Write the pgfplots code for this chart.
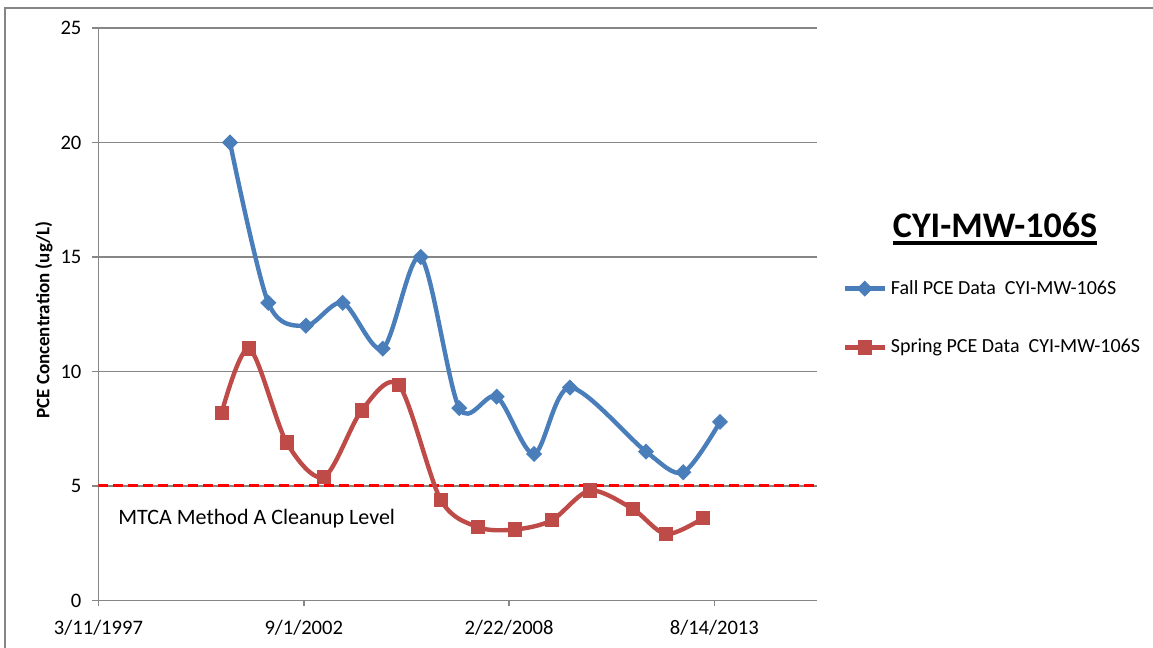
\documentclass[border=0pt]{standalone}
\usepackage{pgfplots}
\pgfplotsset{compat=1.18}
\usepackage{fontspec}
\setmainfont{Carlito}
\definecolor{fallblue}{HTML}{4A7EBB}
\definecolor{springred}{HTML}{BE4B48}
\definecolor{axgray}{HTML}{868686}

% x = days since 3/11/1997
\pgfplotstableread{
x y
1281 20
1654 13
2021 12
2379 13
2769 11
3139 15
3515 8.4
3879 8.9
4243 6.4
4593 9.3
5334 6.5
5697 5.6
6055 7.8
}\falldata
\pgfplotstableread{
x y
1200 8.2
1469 11
1833 6.9
2197 5.4
2564 8.3
2927 9.4
3334 4.4
3700 3.2
4057 3.1
4415 3.5
4788 4.8
5204 4.0
5529 2.9
5892 3.6
}\springdata

\begin{document}
\begin{tikzpicture}
\path[use as bounding box] (0,0) rectangle (576.5pt,324pt);
% chart frame
\draw[axgray, line width=0.6pt] (2.5pt,0) -- (2.5pt,320pt) -- (576.5pt,320pt);

\begin{axis}[
    at={(49.25pt,23.75pt)}, anchor=south west,
    scale only axis,
    width=359.25pt, height=286.25pt,
    xmin=0, xmax=7000,
    ymin=0, ymax=25,
    xtick={0,2000,4000,6000},
    xticklabels={3/11/1997,9/1/2002,2/22/2008,8/14/2013},
    ytick={0,5,10,15,20,25},
    axis x line*=bottom, axis y line*=left,
    axis line style={axgray, line width=0.8pt},
    tick align=outside, major tick length=3pt,
    tick style={axgray, line width=0.8pt},
    ymajorgrids, grid style={axgray, line width=0.8pt},
    tick label style={font=\fontsize{10.3}{12}\selectfont, black},
    xticklabel style={yshift=-3.5pt},
    yticklabel style={xshift=-2pt},
    /pgf/number format/assume math mode=true,
    ylabel={PCE Concentration (ug/L)},
    every axis y label/.style={at={(axis description cs:-0.0759,0.49)}, rotate=90, anchor=center,
        font=\fontsize{9.5}{11}\selectfont\bfseries},
    legend style={at={(1.035,0.4934)}, anchor=west, draw=none, fill=none,
        inner xsep=0pt, font=\fontsize{10}{12}\selectfont,
        row sep=17pt},
    legend cell align=left,
    legend image code/.code={
        \draw[mark repeat=2, mark phase=2] plot coordinates {(0pt,0pt) (10pt,0pt) (20pt,0pt)};
    },
]
\addplot[red, line width=1.5pt, dash pattern=on 5pt off 2.5pt, forget plot]
    coordinates {(0,5) (7000,5)};

\addplot[fallblue, line width=2.2pt, smooth, tension=0.5,
    mark=square*, mark size=2.6pt, mark options={solid, rotate=45, fill=fallblue, draw=fallblue, line width=0.5pt}]
    table[x=x, y=y] {\falldata};
\addlegendentry{Fall PCE Data\ \ CYI-MW-106S}

\addplot[springred, line width=2.2pt, smooth, tension=0.5,
    mark=square*, mark size=3.3pt, mark options={solid, fill=springred, draw=springred, line width=0.5pt}]
    table[x=x, y=y] {\springdata};
\addlegendentry{Spring PCE Data\ \ CYI-MW-106S}

\node[anchor=base west, font=\fontsize{11}{13}\selectfont, inner sep=0pt]
    at (axis cs:190,3.3) {MTCA Method A Cleanup Level};
\end{axis}

\node[anchor=base, font=\fontsize{18}{21}\selectfont\bfseries, inner sep=0pt] (T)
    at (497.5pt,205pt) {CYI-MW-106S};
\draw[line width=1.8pt] ([yshift=-2.6pt]T.base west) -- ([yshift=-2.6pt]T.base east);
\end{tikzpicture}
\end{document}
